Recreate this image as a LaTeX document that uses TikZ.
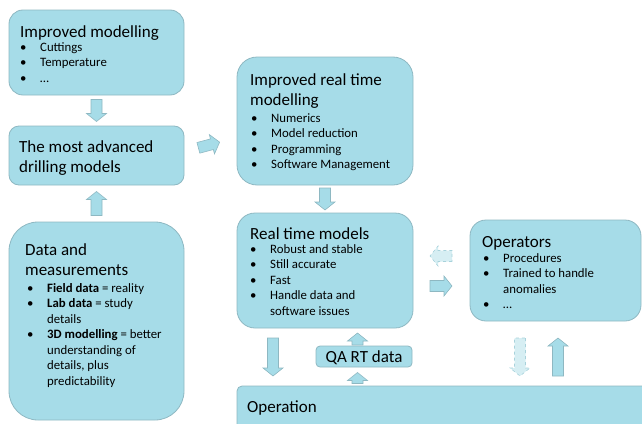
\documentclass[tikz,border=0pt]{standalone}
\usepackage{fontspec}
\setmainfont{Carlito}
\usetikzlibrary{positioning,calc}
\definecolor{boxfill}{RGB}{166,220,232}
\definecolor{boxline}{RGB}{142,184,194}
\definecolor{lightfill}{RGB}{214,238,243}
\definecolor{lightline}{RGB}{168,210,219}
\newcommand{\bl}{\makebox[20pt][l]{\textbullet}}
\newcommand{\cl}{\hspace*{20pt}}
\newcommand{\ttlfont}{\fontsize{17}{20}\selectfont}
\newcommand{\txtfont}{\fontsize{12.8}{15.5}\selectfont}
\tikzset{
  box/.style={draw=boxline, fill=boxfill, line width=0.8pt, inner sep=0pt, outer sep=0pt, anchor=north west},
  ttl/.style={font=\ttlfont, align=left, inner sep=0pt, anchor=north west, execute at begin node=\strut},
  txt/.style={font=\txtfont, align=left, inner sep=0pt, anchor=north west, execute at begin node=\strut},
  arrowbody/.style={fill=boxfill, draw=boxline, line width=0.6pt},
  lightarrow/.style={fill=lightfill, draw=lightline, dashed, line width=0.6pt},
  pics/blockarrow/.style={code={
    \path[pic actions] (-#1,-5.5) -- (#1-8,-5.5) -- (#1-8,-10) -- (#1,0) -- (#1-8,10) -- (#1-8,5.5) -- (-#1,5.5) -- cycle;
  }},
}
\begin{document}
\begin{tikzpicture}[x=1pt, y=-1pt]
  \useasboundingbox (0,0) rectangle (642,423);
  \clip (0,0) rectangle (642,423);
  % boxes
  \node[box, minimum width=175pt, minimum height=85pt, rounded corners=14pt] (imp) at (9,10) {};
  \node[box, minimum width=175pt, minimum height=59pt, rounded corners=10pt] (adv) at (9,126) {};
  \node[box, minimum width=175pt, minimum height=198pt, rounded corners=29pt] (data) at (9,222) {};
  \node[box, minimum width=176pt, minimum height=128pt, rounded corners=20pt] (rtimp) at (237,57) {};
  \node[box, minimum width=176pt, minimum height=115pt, rounded corners=18pt] (rtm) at (237,213) {};
  \node[box, minimum width=171pt, minimum height=101pt, rounded corners=16pt] (ops) at (470,220) {};
  \node[box, minimum width=96pt, minimum height=21pt, rounded corners=4pt] (qa) at (316,346) {};
  \node[box, minimum width=420pt, minimum height=50pt, rounded corners=5pt] (oper) at (237,386) {};
  % texts
  \node[ttl] (impt) at ([shift={(11,13)}]imp.north west) {Improved modelling};
  \node[txt] (impb) at ([shift={(11,32)}]imp.north west) {\bl Cuttings\\ \bl Temperature\\ \bl …};
  \node[ttl] (advt) at ([shift={(10,14)}]adv.north west) {The most advanced\\drilling models};
  \node[ttl] (datat) at ([shift={(16,21)}]data.north west) {Data and\\measurements};
  \node[txt] (datab) at ([shift={(18,61)}]data.north west)
    {\bl\textbf{Field data} = reality\\ \bl\textbf{Lab data} = study\\ \cl details\\
     \bl\textbf{3D modelling} = better\\ \cl understanding of\\ \cl details, plus\\ \cl predictability};
  \node[ttl] (rtimpt) at ([shift={(13,16)}]rtimp.north west) {Improved real time\\modelling};
  \node[txt] (rtimpb) at ([shift={(14,56)}]rtimp.north west)
    {\bl Numerics\\ \bl Model reduction\\ \bl Programming\\ \bl Software Management};
  \node[ttl] (rtmt) at ([shift={(13,12)}]rtm.north west) {Real time models};
  \node[txt] (rtmb) at ([shift={(13,31)}]rtm.north west)
    {\bl Robust and stable\\ \bl Still accurate\\ \bl Fast\\ \bl Handle data and\\ \cl software issues};
  \node[ttl] (opst) at ([shift={(12,13)}]ops.north west) {Operators};
  \node[txt] (opsb) at ([shift={(13,33)}]ops.north west)
    {\bl Procedures\\ \bl Trained to handle\\ \cl anomalies\\ \bl …};
  \node[ttl, anchor=base] (qat) at ($(qa.south)+(0,-5)$) {QA RT data};
  \node[ttl, anchor=base west] (opert) at ([shift={(10,26)}]oper.north west) {Operation};
  % arrows
  \pic[arrowbody, rotate=-90] at ($(imp.south)!0.5!(adv.north)$) {blockarrow=11};
  \pic[arrowbody, rotate=90] at ($(data.north)!0.5!(adv.south)$) {blockarrow=12};
  \pic[arrowbody, rotate=15] at (209,145) {blockarrow=11};
  \pic[arrowbody, rotate=-90] at ($(rtimp.south)!0.5!(rtm.north)$) {blockarrow=11};
  \pic[arrowbody, rotate=-90] at (273,357) {blockarrow=19};
  \pic[arrowbody, rotate=90] at (357.5,339) {blockarrow=6};
  \pic[arrowbody, rotate=90] at (357.5,378) {blockarrow=5.5};
  \pic[lightarrow, rotate=180] at (441,256) {blockarrow=11};
  \pic[arrowbody] at (441,286) {blockarrow=11};
  \pic[lightarrow, rotate=-90] at (520,357) {blockarrow=19};
  \pic[arrowbody, rotate=90] at (558,357) {blockarrow=19};
\end{tikzpicture}
\end{document}
